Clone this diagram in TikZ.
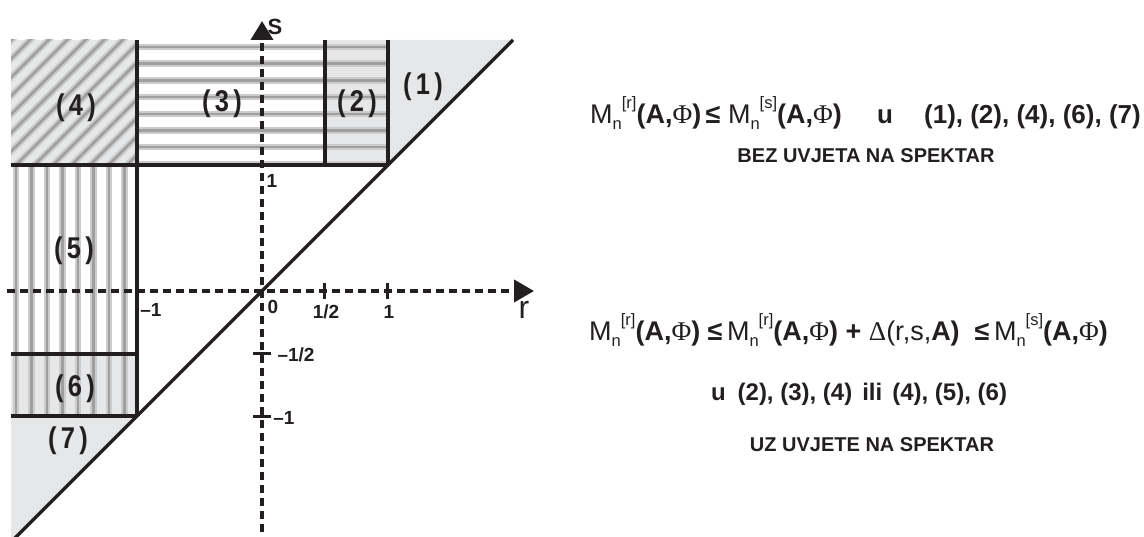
\documentclass[tikz,border=0pt]{standalone}
\usepackage{fontspec}
\setmainfont{Liberation Sans}
\newfontfamily\phifont{Liberation Serif}
\usetikzlibrary{arrows.meta}
\definecolor{lgray}{RGB}{230,231,232}
\definecolor{ink}{RGB}{35,31,32}
\newcommand{\msub}[1]{\raisebox{-5.5pt}{\fontsize{16.5}{16.5}\selectfont #1}}
\newcommand{\msup}[1]{\raisebox{15pt}{\fontsize{16.5}{16.5}\selectfont #1}}
\newcommand{\AP}{\textbf{(A,}{\phifont Φ}\textbf{)}}
\newcommand{\Mr}[1]{M\msub{n}\msup{[#1]}}
\begin{document}
\begin{tikzpicture}[x=1pt,y=-1pt,
  border/.style={line width=4pt, ink},
  axisline/.style={line width=3.8pt, ink, dash pattern=on 8pt off 5pt},
  stripeA/.style={line width=6.5pt, gray!40},
  stripeB/.style={line width=2.5pt, gray!75},
  ticklab/.style={font=\fontsize{19}{19}\selectfont\bfseries, ink, inner sep=0pt},
  reglab/.style={font=\fontsize{30}{30}\selectfont\bfseries, ink, inner sep=0pt},
  rtext/.style={font=\fontsize{27}{27}\selectfont, ink, inner sep=0pt},
  rbold/.style={font=\fontsize{26}{26}\selectfont\bfseries, ink, inner sep=0pt},
  rtitle/.style={font=\fontsize{20}{20}\selectfont\bfseries, ink, inner sep=0pt}]
\useasboundingbox (0,0) rectangle (1144,537);
% fills
\fill[lgray] (324.75,40) rectangle (387.5,165.5);
\fill[lgray] (11,40) rectangle (136.5,165.5);
\fill[lgray] (11,353.75) rectangle (136.5,416.5);
\fill[lgray] (387.5,165.5) -- (387.5,40) -- (513,40) -- cycle;
\fill[lgray] (11,416.5) -- (136.5,416.5) -- (11,542) -- cycle;
% horizontal stripes (3),(2)
\begin{scope}
\clip (136.5,40) rectangle (387.5,165.5);
\foreach \k in {0,...,7} {
  \draw[stripeA] (136.5,47+16.7*\k) -- (387.5,47+16.7*\k);
  \draw[stripeB] (136.5,47+16.7*\k) -- (387.5,47+16.7*\k);
}
\end{scope}
% vertical stripes (5),(6)
\begin{scope}
\clip (11,165.5) rectangle (136.5,416.5);
\foreach \k in {0,...,7} {
  \draw[stripeA] (16+15.5*\k,165.5) -- (16+15.5*\k,416.5);
  \draw[stripeB] (16+15.5*\k,165.5) -- (16+15.5*\k,416.5);
}
\end{scope}
% diagonal stripes (4)
\begin{scope}
\clip (11,40) rectangle (136.5,165.5);
\foreach \c in {-8,...,7} {
  \draw[stripeA] (11+18.5*\c,170) -- ++(140,-140);
  \draw[stripeB] (11+18.5*\c,170) -- ++(140,-140);
}
\end{scope}
% axes
\draw[axisline, -{Triangle[length=20pt,width=22pt]}] (7,291) -- (534,291);
\draw[axisline, -{Triangle[length=19pt,width=22pt]}] (262,545) -- (262,21);
% ticks
\draw[line width=2.8pt, ink] (324.75,283) -- (324.75,299);
\draw[line width=2.8pt, ink] (387.5,283) -- (387.5,299);
\draw[line width=2.8pt, ink] (253,353.75) -- (271,353.75);
\draw[line width=2.8pt, ink] (253,416.5) -- (271,416.5);
% borders
\draw[border] (136.5,40) -- (136.5,416.5);
\draw[border] (11,165.5) -- (387.5,165.5);
\draw[border] (324.75,40) -- (324.75,165.5);
\draw[border] (387.5,40) -- (387.5,165.5);
\draw[border] (11,353.75) -- (136.5,353.75);
\draw[border] (11,416.5) -- (136.5,416.5);
\draw[line width=3.4pt, ink] (11,542) -- (513,40);
% axis labels
\node[ticklab, font=\fontsize{22}{22}\selectfont\bfseries] (S) at (275,27) {S};
\node[ticklab, font=\fontsize{32}{32}\selectfont] (R) at (524,310) {r};
\node[ticklab] (t0) at (273,307) {0};
\node[ticklab] (th) at (326,312) {1/2};
\node[ticklab] (t1) at (389,312) {1};
\node[ticklab] (tm1) at (151,310) {–1};
\node[ticklab] (tmh) at (296,355) {–1/2};
\node[ticklab] (tsm1) at (284,418) {–1};
\node[ticklab] (ts1) at (272,181) {1};
% region labels
\node[reglab] (g4) at (76,108) {\scalebox{0.85}[1]{(\,4\,)}};
\node[reglab] (g3) at (222,104) {\scalebox{0.85}[1]{(\,3\,)}};
\node[reglab] (g2) at (357,104) {\scalebox{0.85}[1]{(\,2\,)}};
\node[reglab] (g1) at (423,87) {\scalebox{0.85}[1]{(\,1\,)}};
\node[reglab] (g5) at (74,251) {\scalebox{0.85}[1]{(\,5\,)}};
\node[reglab] (g6) at (75,389) {\scalebox{0.85}[1]{(\,6\,)}};
\node[reglab] (g7) at (68,441) {\scalebox{0.85}[1]{(\,7\,)}};
% right text block 1
\node[rtext, anchor=base west] (f1) at (590,124) {\Mr{r}\AP\,\textbf{≤}\ \Mr{s}\AP};
\node[rbold, anchor=base west] (u1) at (877,124) {u};
\node[rbold, anchor=base east] (l1) at (1141,124) {(1), (2), (4), (6), (7)};
\node[rtitle, anchor=base] (b1) at (866,163) {BEZ UVJETA NA SPEKTAR};
% right text block 2
\node[rtext, anchor=base west] (f2) at (589,341) {\Mr{r}\AP\ \textbf{≤}\,\Mr{r}\AP\ \textbf{+}\ {\phifont Δ}(r,s,\textbf{A)}\ \ \textbf{≤}\,\Mr{s}\AP};
\node[rbold, font=\fontsize{24}{24}\selectfont\bfseries, anchor=base] (l2) at (859,400) {u\hspace{12pt}(2), (3), (4)\hspace{10pt}ili\hspace{10pt}(4), (5), (6)};
\node[rtitle, anchor=base] (b2) at (872,451) {UZ UVJETE NA SPEKTAR};
\end{tikzpicture}
\end{document}
